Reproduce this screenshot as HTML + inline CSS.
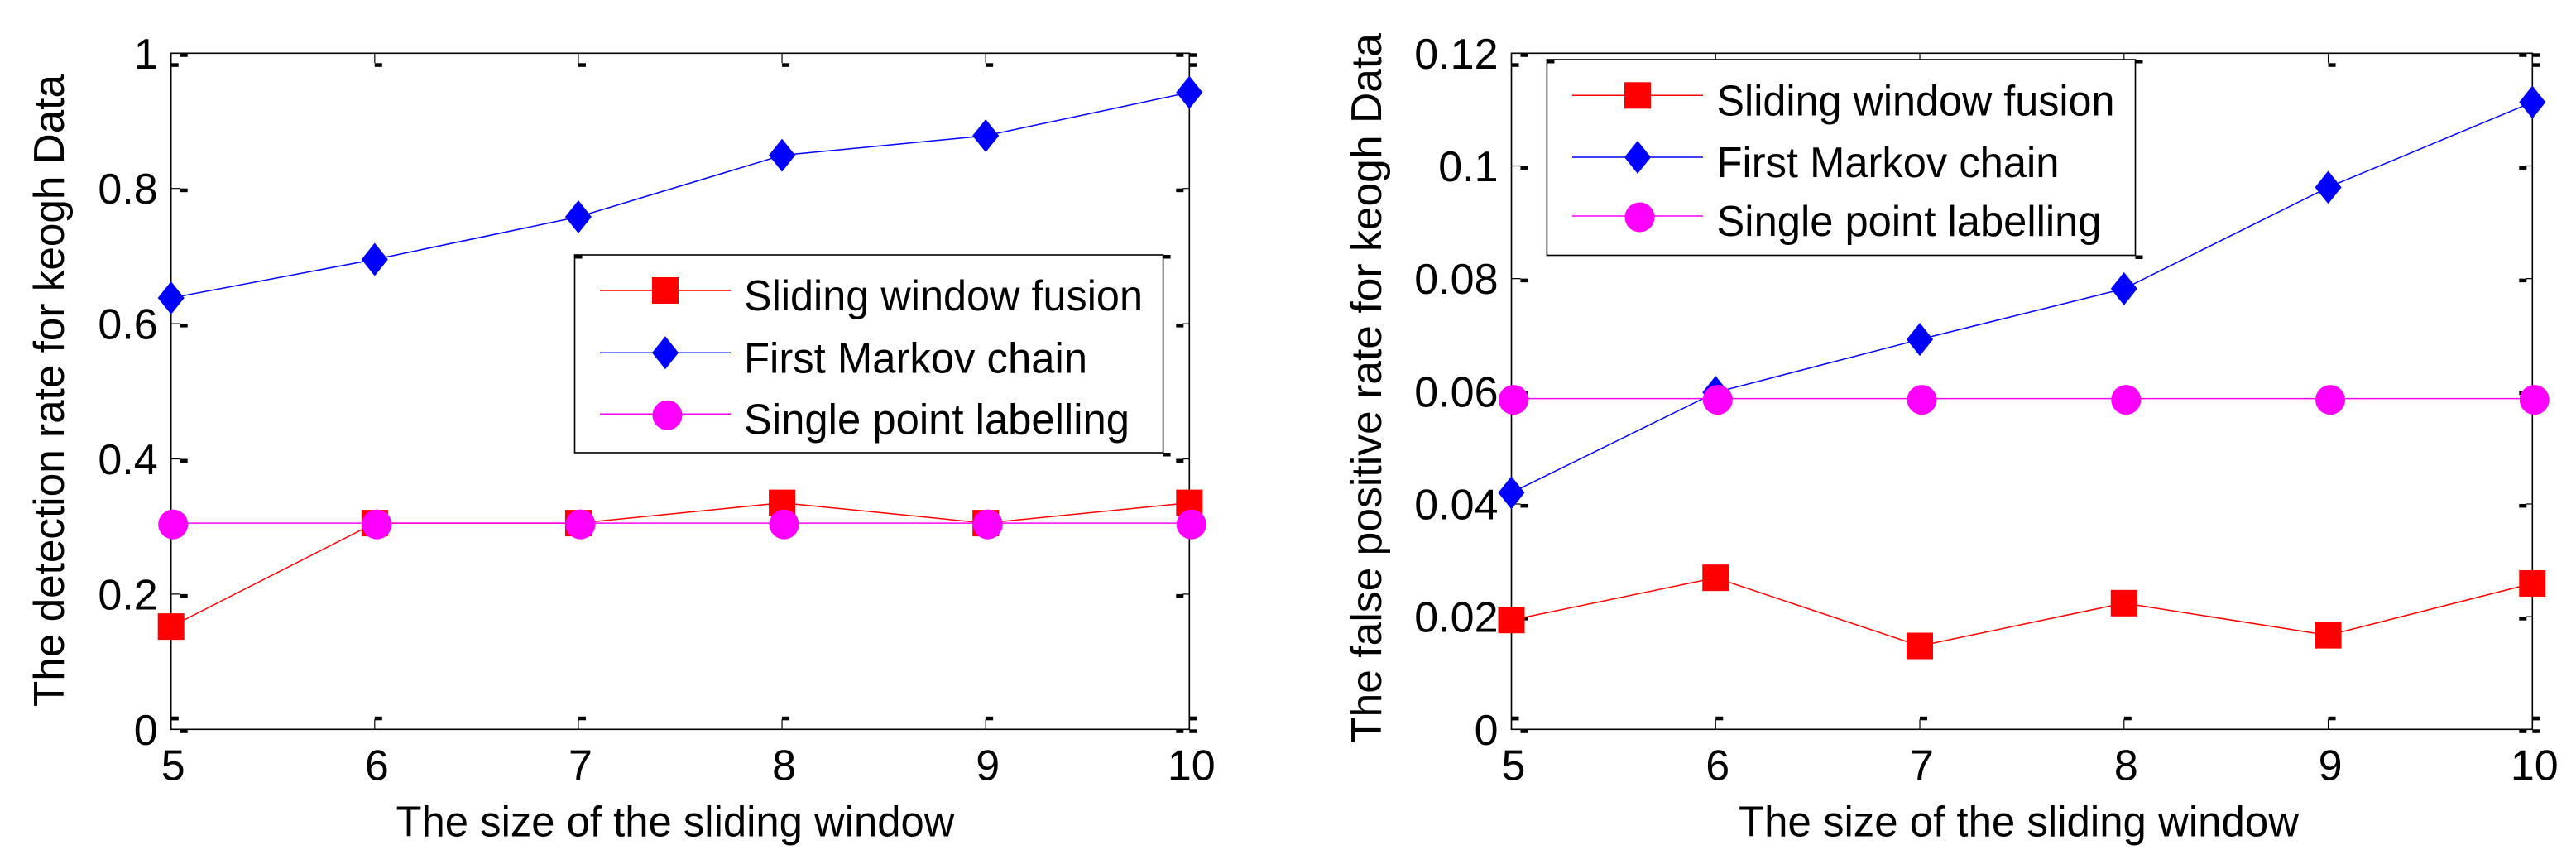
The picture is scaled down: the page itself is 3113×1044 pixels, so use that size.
<!DOCTYPE html>
<html lang="en">
<head>
<meta charset="utf-8">
<title>Detection and false positive rates for keogh data</title>
<style>
html,body{margin:0;padding:0;background:#fff;width:3113px;height:1044px;overflow:hidden}
svg{display:block}
text{font-family:"Liberation Sans",Arial,sans-serif;fill:#000}
</style>
</head>
<body>
<svg id="figure" width="3113" height="1044" viewBox="0 0 3113 1044" xmlns="http://www.w3.org/2000/svg">
  <rect width="3113" height="1044" fill="#fff"/>
  <g id="chart-left"></g>
  <g id="chart-right"></g>

  <text x="77" y="854" font-size="52" textLength="764" lengthAdjust="spacingAndGlyphs" transform="rotate(-90 77 854)">The detection rate for keogh Data</text>
  <text x="478.5" y="1010.5" font-size="52" textLength="675" lengthAdjust="spacingAndGlyphs">The size of the sliding window</text>
  <text x="1669" y="898" font-size="52" textLength="858" lengthAdjust="spacingAndGlyphs" transform="rotate(-90 1669 898)">The false positive rate for keogh Data</text>
  <text x="2101" y="1010.5" font-size="52" textLength="677" lengthAdjust="spacingAndGlyphs">The size of the sliding window</text>
</svg>
<script>
// ---- data ----
const windowSizes = [5, 6, 7, 8, 9, 10];
const detectionYTicks = [0, 0.2, 0.4, 0.6, 0.8, 1];
const detectionYLabels = ['0', '0.2', '0.4', '0.6', '0.8', '1'];
const detectionSliding = [0.152, 0.305, 0.305, 0.335, 0.305, 0.335];
const detectionMarkov = [0.638, 0.695, 0.758, 0.849, 0.878, 0.942];
const detectionSingle = [0.305, 0.305, 0.305, 0.305, 0.305, 0.305];
const falsePosYTicks = [0, 0.02, 0.04, 0.06, 0.08, 0.1, 0.12];
const falsePosYLabels = ['0', '0.02', '0.04', '0.06', '0.08', '0.1', '0.12'];
const falsePosSliding = [0.0194, 0.0269, 0.0148, 0.0224, 0.0167, 0.0259];
const falsePosMarkov = [0.0420, 0.0598, 0.0692, 0.0782, 0.0962, 0.1113];
const falsePosSingle = [0.0587, 0.0587, 0.0587, 0.0587, 0.0587, 0.0587];
const legendLabels = ['Sliding window fusion', 'First Markov chain', 'Single point labelling'];
const seriesColors = ['#ff0000', '#0000ff', '#ff00ff'];

const NS = 'http://www.w3.org/2000/svg';
function make(parent, tag, attrs, content) {
  const node = document.createElementNS(NS, tag);
  for (const k in attrs) node.setAttribute(k, attrs[k]);
  if (content !== undefined) node.textContent = content;
  parent.appendChild(node);
  return node;
}

function drawMarker(parent, kind, cx, cy, color) {
  let m;
  if (kind === 0) {
    m = make(parent, 'rect', {x: cx - 16, y: cy - 16, width: 32, height: 32, fill: color});
    
  } else if (kind === 1) {
    m = make(parent, 'polygon', {points: cx + ',' + (cy - 20) + ' ' + (cx + 16) + ',' + cy + ' ' + cx + ',' + (cy + 20) + ' ' + (cx - 16) + ',' + cy, fill: color});
    
  } else {
    m = make(parent, 'circle', {cx: cx + 2.5, cy: cy + 1.5, r: 18, fill: color});
    
  }
  
}

function blob(parent, x, y) {
  const b = make(parent, 'rect', {x: x, y: y, width: 9, height: 4.5, fill: '#000'});
  
  
}

function drawChart(root, box, xValues, yTicks, yLabels, yMax, series, legend) {
  const xScale = function (v) { return box.left + (v - xValues[0]) / (xValues[xValues.length - 1] - xValues[0]) * (box.right - box.left); };
  const yScale = function (v) { return box.bottom - v / yMax * (box.bottom - box.top); };

  const frame = make(root, 'rect', {x: box.left, y: box.top, width: box.right - box.left, height: box.bottom - box.top, fill: 'none', stroke: '#000', 'stroke-width': 1.6});
  
  

  xValues.forEach(function (v) {
    const x = xScale(v);
    const tickLines = make(root, 'path', {d: 'M' + x + ' ' + box.top + 'V' + (box.top + 12) + 'M' + x + ' ' + box.bottom + 'V' + (box.bottom - 12), stroke: '#000', 'stroke-width': 1.2, fill: 'none'});
    
    
    blob(root, x, box.top + 12);
    blob(root, x, box.bottom - 15.5);
    const label = make(root, 'text', {x: x + 2.5, y: 942.5, 'font-size': 52, 'text-anchor': 'middle'}, String(v));
    
    
  });

  yTicks.forEach(function (v, i) {
    const y = yScale(v);
    const tickLines = make(root, 'path', {d: 'M' + box.left + ' ' + y + 'H' + (box.left + 11) + 'M' + box.right + ' ' + y + 'H' + (box.right - 8), stroke: '#000', 'stroke-width': 1.2, fill: 'none'});
    
    
    blob(root, box.left + 11, y);
    blob(root, box.right - 16, y);
    const label = make(root, 'text', {x: box.left - 16, y: y + 18.5, 'font-size': 52, 'text-anchor': 'end'}, yLabels[i]);
    
    
  });
  // outer-corner marks
  blob(root, box.right, box.top);
  blob(root, box.right, box.bottom);
  blob(root, box.left, box.bottom - 15.5);
  blob(root, box.right, box.bottom - 15.5);

  series.forEach(function (values, s) {
    const pts = values.map(function (v, i) { return xScale(xValues[i]) + ',' + yScale(v); }).join(' ');
    const line = make(root, 'polyline', {points: pts, fill: 'none', stroke: seriesColors[s], 'stroke-width': 1.5});
    
    
    values.forEach(function (v, i) { drawMarker(root, s, xScale(xValues[i]), yScale(v), seriesColors[s]); });
  });

  const lg = make(root, 'g', {});
  
  
  const lgBox = make(lg, 'rect', {x: legend.left, y: legend.top, width: legend.right - legend.left, height: legend.bottom - legend.top, fill: '#fff', stroke: '#000', 'stroke-width': 1.6});
  
  
  blob(lg, legend.left, legend.top);
  blob(lg, legend.right, legend.top);
  blob(lg, legend.right, legend.bottom);
  legendLabels.forEach(function (name, s) {
    const y = legend.rows[s];
    const sample = make(lg, 'line', {x1: legend.lineX0, x2: legend.lineX1, y1: y, y2: y, stroke: seriesColors[s], 'stroke-width': 1.5});
    
    
    drawMarker(lg, s, (legend.lineX0 + legend.lineX1) / 2, y, seriesColors[s]);
    const t = make(lg, 'text', {x: legend.textX, y: y + 24, 'font-size': 52, textLength: legend.widths[s], lengthAdjust: 'spacingAndGlyphs'}, name);
    
    
  });
}

drawChart(document.getElementById('chart-left'),
  {left: 206.7, right: 1437.3, top: 64.3, bottom: 881.3},
  windowSizes, detectionYTicks, detectionYLabels, 1,
  [detectionSliding, detectionMarkov, detectionSingle],
  {left: 694.5, right: 1405.6, top: 308, bottom: 547, lineX0: 725, lineX1: 883, textX: 899, rows: [351, 426.3, 500.3], widths: [482, 415, 466]});

drawChart(document.getElementById('chart-right'),
  {left: 1826.5, right: 3060.3, top: 64.3, bottom: 881.3},
  windowSizes, falsePosYTicks, falsePosYLabels, 0.12,
  [falsePosSliding, falsePosMarkov, falsePosSingle],
  {left: 1869.4, right: 2580.5, top: 72, bottom: 308.5, lineX0: 1900, lineX1: 2058, textX: 2074.5, rows: [115.3, 190, 261], widths: [481, 414, 465]});
</script>
</body>
</html>
